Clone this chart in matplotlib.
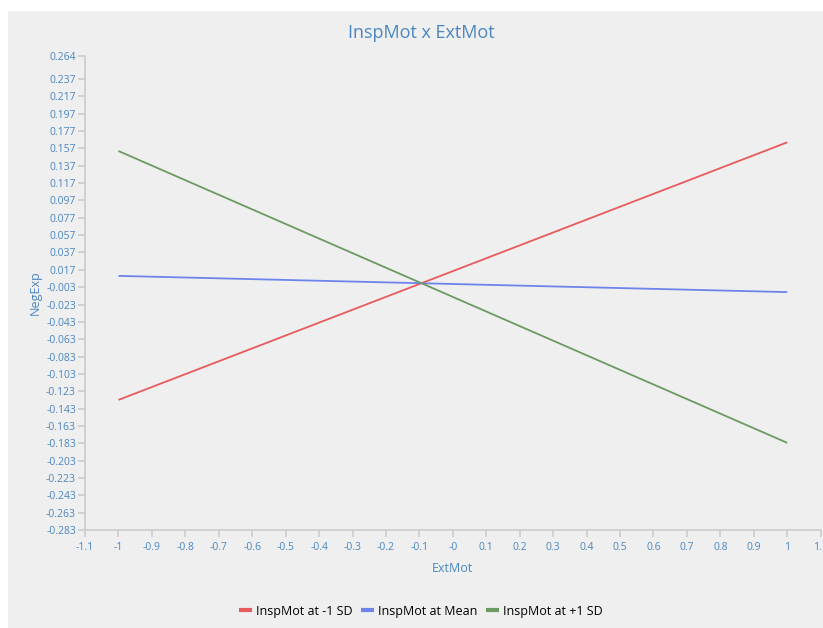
import matplotlib
matplotlib.use("Agg")
import matplotlib.pyplot as plt
from matplotlib.patches import Rectangle

plt.rcParams["font.family"] = ["Open Sans", "DejaVu Sans"]

# simple slopes: NegExp predicted from ExtMot at three levels of InspMot
ext_mot = [-1.0, 1.0]
series_labels = ["InspMot at -1 SD", "InspMot at Mean", "InspMot at +1 SD"]
neg_exp_low = [-0.133, 0.164]
neg_exp_mean = [0.010, -0.0087]
neg_exp_high = [0.154, -0.1825]
series_colors = ["#e85a5c", "#6f84ea", "#6b9a62"]

y_ticks = [-0.283 + 0.02 * k for k in range(27)] + [0.264]
y_ticklabels = [f"{v:.3f}" for v in y_ticks]
x_ticks = [round(-1.1 + 0.1 * k, 1) for k in range(23)]
x_ticklabels = ["-0" if v == 0 else f"{v:g}" for v in x_ticks]

TEXT = "#4a86c0"
AXIS = "#cccccc"
PANEL = "#efefef"

fig = plt.figure(figsize=(8.23, 6.28), dpi=100)
fig.patch.set_facecolor("white")
fig.add_artist(Rectangle((8 / 823, 0), 1, 1 - 11 / 628, transform=fig.transFigure,
                         facecolor=PANEL, edgecolor="none", zorder=0))

ax = fig.add_axes([85 / 823, 98 / 628, 735.7 / 823, 474.4 / 628])
ax.set_facecolor(PANEL)

for ys, label, color in zip([neg_exp_low, neg_exp_mean, neg_exp_high], series_labels, series_colors):
    ax.plot(ext_mot, ys, color=color, linewidth=1.3, label=label, solid_capstyle="butt")

ax.set_xlim(-1.1, 1.1)
ax.set_ylim(-0.283, 0.264)
ax.set_xticks(x_ticks)
ax.set_xticklabels(x_ticklabels)
ax.set_yticks(y_ticks)
ax.set_yticklabels(y_ticklabels)

for side in ("top", "right"):
    ax.spines[side].set_visible(False)
for side in ("left", "bottom"):
    ax.spines[side].set_color(AXIS)
    ax.spines[side].set_linewidth(1.2)

ax.tick_params(axis="both", colors=AXIS, labelcolor=TEXT, labelsize=7.5, length=5, width=1.2)
ax.tick_params(axis="x", pad=4)
ax.tick_params(axis="y", pad=1.5)

ax.set_xlabel("ExtMot", color=TEXT, fontsize=9, labelpad=6)
ax.set_ylabel("NegExp", color=TEXT, fontsize=9, labelpad=3)

fig.text(421 / 823, 1 - 33 / 628, "InspMot x ExtMot", color=TEXT, fontsize=13,
         ha="center", va="center")

handles, labels = ax.get_legend_handles_labels()
leg = fig.legend(handles, labels, loc="center", ncol=3, frameon=False,
                 bbox_to_anchor=(421 / 823, 1 - 611 / 628), fontsize=9,
                 handlelength=1.0, handletextpad=0.35, columnspacing=0.7)
for line in leg.get_lines():
    line.set_linewidth(3)

fig.savefig("out.png", dpi=100, facecolor="white")
